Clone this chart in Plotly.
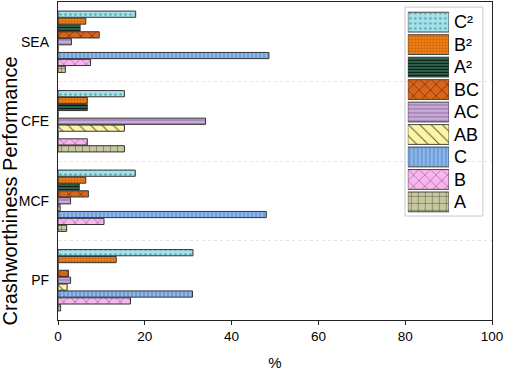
import plotly.graph_objects as go

categories = ["PF", "MCF", "CFE", "SEA"]
series_names = ["A", "B", "C", "AB", "AC", "BC", "A²", "B²", "C²"]

A_vals = [0.6, 2.0, 15.3, 1.7]
B_vals = [16.7, 10.6, 6.75, 7.5]
C_vals = [31.0, 48.0, 0.0, 48.6]
AB_vals = [2.1, 0.5, 15.3, 0.0]
AC_vals = [2.9, 2.9, 34.0, 3.1]
BC_vals = [2.4, 7.0, 0.0, 9.5]
A2_vals = [0.0, 4.9, 6.75, 5.1]
B2_vals = [13.4, 6.4, 6.75, 6.4]
C2_vals = [31.1, 17.8, 15.3, 17.9]

x_ticks = [0, 20, 40, 60, 80, 100]

values = [A_vals, B_vals, C_vals, AB_vals, AC_vals, BC_vals, A2_vals, B2_vals, C2_vals]

# style per series: (bgcolor, shape, fgcolor, size, solidity)
styles = {
    "A": ("#c8c8a0", "+", "#5a5a40", 7, 0.15),
    "B": ("#f7b6ef", "x", "#7a4a78", 8, 0.12),
    "C": ("#8cb8f0", "|", "#4a74aa", 4, 0.2),
    "AB": ("#fdf5a2", "\\", "#555555", 8, 0.12),
    "AC": ("#c9aad9", "-", "#7e6090", 4, 0.2),
    "BC": ("#d8651a", "x", "#5e2600", 8, 0.15),
    "A²": ("#2f6a4e", "-", "#0b1c14", 3, 0.4),
    "B²": ("#f07f1a", ".", "#c85f00", 3, 0.3),
    "C²": ("#a6e2ea", ".", "#5fa9b6", 5, 0.2),
}


def make_marker(name, line_color):
    bg, sh, fg, sz, so = styles[name]
    return dict(color=bg, line=dict(color=line_color, width=1),
                pattern=dict(shape=sh, fgcolor=fg, bgcolor=bg, size=sz,
                             solidity=so, fillmode="replace"))


fig = go.Figure()
for name, vals in zip(series_names, values):
    fig.add_trace(go.Bar(
        y=categories, x=vals, orientation="h", name=name, showlegend=False,
        marker=make_marker(name, "#333333"), xaxis="x", yaxis="y",
    ))

# custom legend drawn as bars on a second pair of axes
for name in series_names:
    fig.add_trace(go.Bar(
        y=[name], x=[1], orientation="h", width=0.88, offset=-0.44,
        showlegend=False, hoverinfo="skip",
        marker=make_marker(name, "#444444"), xaxis="x2", yaxis="y2",
    ))

axis_line = "#222222"
fig.update_layout(
    width=505, height=371,
    margin=dict(l=58, r=13, t=2, b=51),
    paper_bgcolor="white", plot_bgcolor="white",
    barmode="group", bargap=0.22, bargroupgap=0.1,
    font=dict(family="Liberation Sans, Arial, sans-serif", color="black", size=14),
    xaxis=dict(
        range=[0, 100], tickvals=x_ticks, ticks="outside", ticklen=4,
        tickwidth=1.3, tickcolor=axis_line, showline=True, linecolor=axis_line,
        linewidth=1.3, mirror=True, showgrid=False, zeroline=False,
        tickfont=dict(size=13.5),
        title=dict(text="%", font=dict(size=15), standoff=14),
    ),
    yaxis=dict(
        categoryorder="array", categoryarray=categories, range=[-0.5, 3.5],
        ticks="", showline=True, linecolor=axis_line, linewidth=1.3, mirror=True,
        showgrid=True, gridcolor="#e4e4e4", griddash="dot", gridwidth=1,
        tickson="boundaries", tickfont=dict(size=14), ticklabelstandoff=5,
    ),
    xaxis2=dict(domain=[0.806, 0.901], range=[0, 1], anchor="y2",
                visible=False, fixedrange=True),
    yaxis2=dict(domain=[0.336, 0.972], anchor="x2", side="right",
                categoryorder="array", categoryarray=series_names,
                range=[-0.5, 8.5], showline=False, showgrid=False, ticks="",
                zeroline=False, tickfont=dict(size=18), ticklabelstandoff=4),
    shapes=[dict(type="rect", xref="paper", yref="paper",
                 x0=0.7995, x1=0.979, y0=0.327, y1=0.984,
                 line=dict(color="#c8c8c8", width=1), fillcolor="white",
                 layer="below")],
    annotations=[dict(text="Crashworthiness Performance", xref="paper", yref="paper",
                      x=-0.111, y=0.407, xanchor="center", yanchor="middle",
                      textangle=-90, showarrow=False, font=dict(size=20))],
)

fig.write_html("out.html",
               config={"displayModeBar": False},
               post_script="document.body.style.margin='0';document.body.style.overflow='hidden';")
